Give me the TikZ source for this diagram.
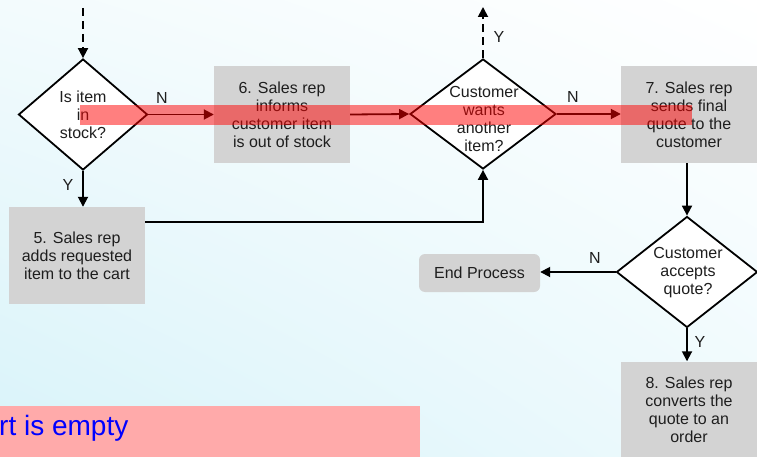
\documentclass[tikz,border=0pt]{standalone}
\usepackage{fontspec}
\setmainfont{Liberation Sans}
\usetikzlibrary{shapes.geometric,arrows.meta,shadings}
\definecolor{boxgray}{RGB}{211,211,211}
\definecolor{textdark}{RGB}{30,30,30}
\definecolor{bgul}{RGB}{243,251,253}
\definecolor{bgll}{RGB}{216,243,249}
\definecolor{bglr}{RGB}{238,250,253}
\definecolor{pinkbg}{RGB}{255,170,170}
\begin{document}
\begin{tikzpicture}[x=1pt,y=-1pt,
  flow/.style={line width=1.8pt, -{Triangle[length=10pt,width=10pt]}},
  dashflow/.style={flow, dash pattern=on 8pt off 5pt},
  dia/.style={diamond, draw, line width=1.8pt, fill=white, inner sep=0pt},
  stepbox/.style={fill=boxgray, minimum width=136pt, minimum height=97pt, inner sep=0pt,
    align=center, font=\fontsize{16}{18}\selectfont, text=textdark},
  endbox/.style={fill=boxgray, rounded corners=6pt, minimum width=121pt, minimum height=38pt,
    inner sep=0pt, font=\fontsize{16}{18}\selectfont, text=textdark},
  txt/.style={align=center, font=\fontsize{16}{18}\selectfont, text=textdark, inner sep=0pt},
  lbl/.style={font=\fontsize{16}{18}\selectfont, text=textdark, inner sep=0pt}
]
\shade[upper left=bgul, upper right=white, lower left=bgll, lower right=bglr] (0,0) rectangle (757,457);
\useasboundingbox (0,0) rectangle (757,457);

% process boxes
\node[stepbox] (box5) at (77,255.5) {5. Sales rep\\adds requested\\item to the cart};
\node[stepbox] (box6) at (282,114.5) {6. Sales rep\\informs\\customer item\\is out of stock};
\node[stepbox] (box7) at (689,114.5) {7. Sales rep\\sends final\\quote to the\\customer};
\node[stepbox] (box8) at (689,410) {8. Sales rep\\converts the\\quote to an\\order};
\node[endbox] (endp) at (479.5,273) {End Process};

% decisions
\node[dia, minimum width=129pt, minimum height=111pt] (d1) at (83,114.5) {};
\node[txt] (d1t) at (83,115) {Is item\\in\\stock?};
\node[dia, minimum width=146pt, minimum height=110pt] (d2) at (483,114) {};
\node[txt] (d2t) at (484,118.5) {Customer\\wants\\another\\item?};
\node[dia, minimum width=141pt, minimum height=111pt] (d3) at (687,272) {};
\node[txt] (d3t) at (688,273) {Customer\\accepts\\quote?};

% free ends
\coordinate (top1) at (83,8);
\coordinate (top2) at (483,7);

% connectors
\draw[dashflow] (top1) -- (d1.north);
\draw[flow] (d1.south) -- (d1.south |- box5.north);
\draw[flow] (d1.east) -- (box6.west);
\draw[flow] (box6.east) -- (d2.west);
\draw[flow] ([yshift=-15pt]box5.north east) -| (d2.south);
\draw[dashflow] (d2.north) -- (top2);
\draw[flow] (d2.east) -- (d2.east -| box7.west);
\draw[flow] (box7.south -| d3.north) -- (d3.north);
\draw[flow] (d3.west) -- (d3.west -| endp.east);
\draw[flow] (d3.south) -- (d3.south |- box8.north);

% labels
\node[lbl] (ly1) at (68,185) {Y};
\node[lbl] (ln1) at (162,98) {N};
\node[lbl] (ly2) at (499,37) {Y};
\node[lbl] (ln2) at (573,97) {N};
\node[lbl] (ln3) at (595,258) {N};
\node[lbl] (ly3) at (700,342) {Y};

% highlight bar
\fill[red, opacity=0.5] (80,105) rectangle (692,125);

% note box
\fill[pinkbg] (0,406) rectangle (420,457);
\node[anchor=base west, text=blue, font=\fontsize{28}{30}\selectfont, inner sep=0pt] (note) at (-1,435) {rt is empty};
\end{tikzpicture}
\end{document}
